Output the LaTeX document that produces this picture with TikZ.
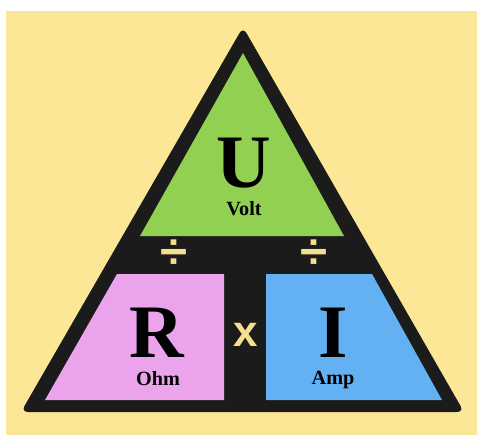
\documentclass[tikz,border=0pt]{standalone}
\usepackage{fontspec}
\setmainfont{Liberation Serif}
\newfontfamily\opfont{Liberation Sans}

\begin{document}
\begin{tikzpicture}
  \def\px{0.02}
  \definecolor{paper}{RGB}{252,231,150}
  \definecolor{frame}{RGB}{27,27,27}
  \definecolor{voltfill}{RGB}{146,208,82}
  \definecolor{ohmfill}{RGB}{235,164,236}
  \definecolor{ampfill}{RGB}{99,177,243}
  \definecolor{opcolor}{RGB}{244,223,142}
  \tikzset{
    bigletter/.style={inner sep=0, anchor=base, font=\bfseries\fontsize{43}{43}\selectfont},
    unitname/.style={inner sep=0, anchor=base, font=\bfseries\fontsize{11.5}{11.5}\selectfont},
    opsign/.style={inner sep=0, text=opcolor, font=\opfont\bfseries\fontsize{25}{25}\selectfont},
    divsign/.style={opsign, font=\opfont\bfseries\fontsize{28}{28}\selectfont}
  }

  \useasboundingbox (0,0) rectangle ({477*\px},{-435*\px});

  %--- Background ---
  \fill[white] (0,0) rectangle ({477*\px},{-435*\px});
  \fill[paper] ({6*\px},{-11*\px}) rectangle ({477*\px},{-435*\px});

  %--- Outer black triangle ---
  \fill[frame, rounded corners=4pt]
    ({243*\px},{-27*\px}) -- ({464*\px},{-412*\px}) -- ({21*\px},{-412*\px}) -- cycle;

  %--- U (top) ---
  \fill[voltfill] ({243*\px},{-53*\px}) -- ({344*\px},{-236*\px}) -- ({140*\px},{-236*\px}) -- cycle;

  %--- R (bottom left) ---
  \fill[ohmfill] ({117*\px},{-274*\px}) -- ({224*\px},{-274*\px})
                 -- ({224*\px},{-400*\px}) -- ({45*\px},{-400*\px}) -- cycle;

  %--- I (bottom right) ---
  \fill[ampfill] ({266*\px},{-274*\px}) -- ({372*\px},{-274*\px})
                 -- ({442*\px},{-400*\px}) -- ({266*\px},{-400*\px}) -- cycle;

  %--- Labels ---
  \node[bigletter] (volt) at ({244*\px},{-187*\px}) {U};
  \node[unitname]  (voltname) at ({244*\px},{-215*\px}) {Volt};
  \node[bigletter] (ohm) at ({157*\px},{-357*\px}) {R};
  \node[unitname]  (ohmname) at ({158*\px},{-385*\px}) {Ohm};
  \node[bigletter] (amp) at ({333*\px},{-357*\px}) {I};
  \node[unitname]  (ampname) at ({333*\px},{-384*\px}) {Amp};

  %--- Operators ---
  \node[divsign] (divleft)  at ({174*\px},{-254*\px}) {÷};
  \node[divsign] (divright) at ({314*\px},{-254*\px}) {÷};
  \node[opsign]  (times)    at ({246*\px},{-335*\px}) {x};

\end{tikzpicture}
\end{document}
